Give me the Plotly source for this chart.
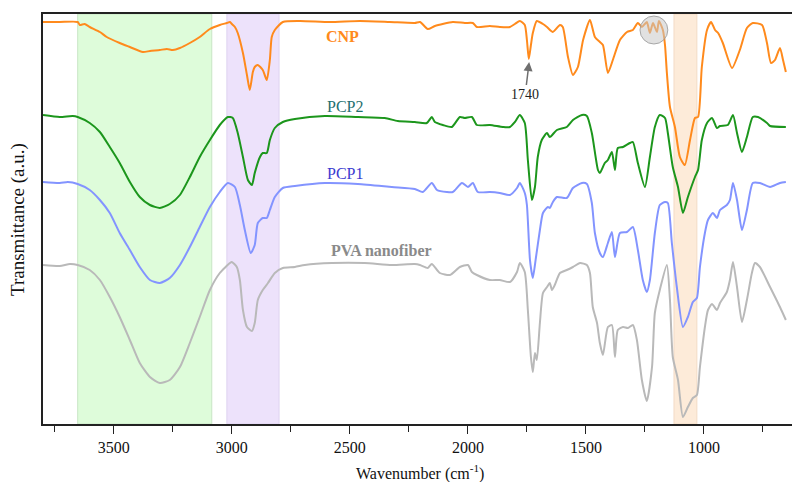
import plotly.graph_objects as go

# ---- data: (wavenumber cm-1, transmittance a.u. offset) ----
cnp = [(3800,402),(3729,402),(3653,402),(3644,399),(3624,400),(3602,397),(3559,392),(3530,387),(3475,381),(3432,377),
       (3377,372),(3347,373),(3305,374),(3275,375),(3250,374),(3220,376),(3178,381),(3136,387),(3093,395),(3051,399),
       (3021,401),(3008,402),(3000,400),(2987,397),(2975,391),(2953,371),(2936,349),(2924,334),(2911,352),(2903,357),
       (2890,359),(2869,354),(2852,344),(2839,364),(2831,387),(2818,394),(2784,402),(2712,403),(2585,402),(2458,403),
       (2331,402),(2225,401),(2203,402),(2170,395),(2140,398),(2064,402),(2013,401),(1979,401),(1962,397),(1907,398),
       (1865,397),(1822,397),(1801,400),(1780,403),(1759,399),(1750,384),(1742,365),(1733,379),(1725,391),(1708,403),
       (1682,400),(1665,397),(1640,392),(1610,399),(1598,397),(1576,367),(1555,349),(1534,357),(1512,384),(1483,404),
       (1462,387),(1441,382),(1428,379),(1407,351),(1386,364),(1356,384),(1326,392),(1301,394),(1280,401),(1263,397),
       (1242,402),(1229,391),(1216,401),(1199,392),(1191,403),(1174,394),(1165,379),(1157,351),(1144,317),(1123,297),
       (1102,267),(1081,259),(1059,284),(1038,306),(1025,307),(1009,357),(987,394),(970,402),(953,394),(940,391),
       (920,381),(881,356),(848,374),(818,396),(793,401),(754,399),(733,381),(716,361),(699,364),(678,376),
       (665,364),(653,352)]

pcp2 = [(3800,309),(3729,307),(3674,308),(3653,307),(3602,301),(3559,292),(3517,277),(3475,261),(3432,242),(3390,227),
        (3347,219),(3305,216),(3263,220),(3220,229),(3178,247),(3136,267),(3093,284),(3051,299),(3017,307),(2996,306),
        (2975,291),(2953,267),(2932,244),(2915,239),(2903,251),(2881,267),(2869,271),(2852,271),(2839,284),(2818,296),
        (2784,302),(2733,305),(2606,308),(2466,307),(2352,306),(2297,303),(2225,302),(2174,301),(2153,307),(2140,302),
        (2106,299),(2068,297),(2034,307),(2013,306),(1983,307),(1962,299),(1907,299),(1852,297),(1822,297),(1801,302),
        (1780,309),(1759,301),(1746,264),(1729,224),(1716,237),(1704,267),(1687,284),(1665,291),(1653,287),(1623,294),
        (1581,297),(1555,304),(1517,309),(1496,308),(1475,291),(1449,254),(1441,251),(1420,261),(1407,264),(1390,272),
        (1377,254),(1365,276),(1343,277),(1314,281),(1301,282),(1280,261),(1250,237),(1229,267),(1208,297),(1187,309),
        (1165,306),(1153,291),(1132,257),(1110,237),(1089,211),(1068,227),(1038,247),(1025,254),(1009,284),(987,301),
        (966,306),(945,296),(932,298),(899,299),(877,309),(860,291),(839,272),(818,287),(793,307),(771,307),
        (733,301),(720,298),(653,297)]

pcp1 = [(3800,242),(3729,241),(3695,242),(3653,240),(3602,234),(3559,224),(3517,211),(3475,191),(3432,174),(3390,157),
        (3347,144),(3305,141),(3263,146),(3220,159),(3178,177),(3136,197),(3093,217),(3051,232),(3017,241),(2987,237),
        (2966,219),(2945,194),(2920,171),(2903,179),(2890,201),(2869,206),(2852,206),(2839,214),(2818,227),(2784,236),
        (2733,238),(2606,241),(2466,240),(2322,237),(2225,235),(2191,232),(2153,241),(2131,234),(2089,232),(2064,232),
        (2025,241),(2000,237),(1979,241),(1958,232),(1907,232),(1865,231),(1822,229),(1792,236),(1780,241),(1759,231),
        (1750,219),(1737,164),(1725,146),(1712,166),(1695,194),(1682,211),(1661,217),(1653,216),(1640,222),(1623,227),
        (1581,226),(1555,236),(1517,241),(1496,240),(1475,221),(1462,191),(1441,171),(1428,167),(1407,181),(1390,192),
        (1377,167),(1356,191),(1326,192),(1301,197),(1280,174),(1259,144),(1242,132),(1229,144),(1208,191),(1187,219),
        (1165,222),(1153,221),(1136,181),(1115,137),(1089,97),(1068,107),(1047,122),(1030,126),(1017,157),(996,191),
        (983,204),(962,211),(945,206),(932,214),(903,219),(890,224),(877,241),(860,224),(839,194),(818,214),
        (793,241),(763,241),(720,237),(678,241),(653,242)]

pva = [(3800,159),(3729,158),(3686,160),(3653,159),(3602,154),(3559,144),(3517,127),(3475,107),(3432,84),(3390,61),
       (3347,47),(3305,41),(3263,44),(3220,57),(3178,81),(3136,107),(3093,134),(3051,151),(3008,161),(3000,162),
       (2979,157),(2966,144),(2953,114),(2936,97),(2915,93),(2903,101),(2890,124),(2869,134),(2847,141),(2818,151),
       (2784,156),(2733,157),(2691,159),(2576,161),(2437,161),(2322,159),(2225,160),(2203,159),(2170,156),(2153,160),
       (2119,151),(2076,149),(2034,157),(2000,159),(1983,152),(1962,149),(1907,144),(1865,144),(1822,142),(1792,152),
       (1780,161),(1759,152),(1746,114),(1733,67),(1725,52),(1716,71),(1708,64),(1695,101),(1682,131),(1665,137),
       (1653,141),(1644,134),(1632,139),(1610,151),(1581,154),(1555,157),(1525,161),(1496,159),(1483,151),(1471,117),
       (1453,101),(1441,81),(1428,69),(1407,97),(1390,99),(1377,67),(1365,94),(1343,97),(1322,96),(1301,99),
       (1284,84),(1263,44),(1242,23),(1220,57),(1208,111),(1187,134),(1157,159),(1144,124),(1132,67),(1110,44),
       (1089,7),(1068,17),(1047,26),(1030,29),(1017,57),(996,97),(983,114),(966,120),(945,114),(932,121),
       (903,132),(890,144),(877,162),(860,137),(839,102),(818,124),(797,151),(784,161),(763,157),(720,137),
       (678,117),(653,104)]

series_names = ["PVA nanofiber", "PCP1", "PCP2", "CNP"]
series_data = [pva, pcp1, pcp2, cnp]
line_colors = ["#b9b9b9", "#8394ff", "#1c961c", "#ff8a1c"]

# highlighted bands (wavenumber ranges)
band_ranges = [(3653, 3085), (3021, 2800), (1127, 1030)]
band_fills = ["#defcda", "#ede2fb", "#fdebd9"]
band_lines = ["#c9e6c6", "#ded2f0", "#f3dcc6"]

# text labels: (text, wavenumber, value, color, bold)
labels = [("CNP", 2530, 388, "#ff8a1c", True),
          ("PCP2", 2521, 318, "#1f7070", False),
          ("PCP1", 2521, 251, "#3a3ad0", False),
          ("PVA nanofiber", 2364, 174, "#8a8a8a", True)]

peak_wn = 1740
peak_val = 363
circle_box = (1271, 1153, 380, 408)

fig = go.Figure()

for (x0, x1), fc, lc in zip(band_ranges, band_fills, band_lines):
    fig.add_shape(type="rect", xref="x", yref="paper", x0=x0, x1=x1, y0=0, y1=1,
                  fillcolor=fc, line=dict(color=lc, width=1), layer="below")

for name, data, col in zip(series_names, series_data, line_colors):
    fig.add_trace(go.Scatter(x=[p[0] for p in data], y=[p[1] for p in data], mode="lines",
                             name=name, line=dict(color=col, width=2, shape="spline", smoothing=0.6),
                             showlegend=False, hoverinfo="skip"))

fig.add_shape(type="circle", xref="x", yref="y", x0=circle_box[0], x1=circle_box[1],
              y0=circle_box[2], y1=circle_box[3], fillcolor="rgba(200,200,200,0.55)",
              line=dict(color="rgba(150,150,150,0.8)", width=1), layer="above")

for text, xw, yv, col, bold in labels:
    fig.add_annotation(x=xw, y=yv, xref="x", yref="y", showarrow=False,
                       text=f"<b>{text}</b>" if bold else text,
                       font=dict(family="Liberation Serif", size=16, color=col))

# 1740 peak marker: text below, arrow pointing up to the peak
fig.add_annotation(x=peak_wn, y=peak_val, xref="x", yref="y", text=str(peak_wn), showarrow=True,
                   ax=-4, ay=33, arrowhead=2, arrowsize=1.2, arrowwidth=1.5, arrowcolor="#6f6f6f",
                   standoff=1, font=dict(family="Liberation Serif", size=14, color="#222222"))

# axis titles
fig.add_annotation(x=0.503, y=-0.1195, xref="paper", yref="paper", showarrow=False,
                   xanchor="center", yanchor="middle",
                   text="Wavenumber (cm<sup>-1</sup>)",
                   font=dict(family="Liberation Serif", size=16, color="#111111"))
fig.add_annotation(x=-0.0334, y=0.5, xref="paper", yref="paper", showarrow=False, textangle=-90,
                   xanchor="center", yanchor="middle",
                   text="Transmittance (a.u.)",
                   font=dict(family="Liberation Serif", size=19, color="#111111"))

fig.update_xaxes(range=[3800, 627], tick0=0, dtick=500, ticks="outside", ticklen=8, tickwidth=1.2,
                 tickcolor="#222", showline=True, linecolor="#222", linewidth=1.5, mirror=True,
                 showgrid=False, zeroline=False,
                 tickfont=dict(family="Liberation Serif", size=16, color="#111"),
                 minor=dict(dtick=250, tick0=0, ticks="outside", ticklen=6, tickwidth=1.2, tickcolor="#222"))
fig.update_yaxes(range=[0, 410], showticklabels=False, ticks="", showline=True, linecolor="#222",
                 linewidth=1.5, mirror=False, showgrid=False, zeroline=False)

fig.update_layout(width=792, height=482, margin=dict(l=43, r=0, t=14, b=58),
                  paper_bgcolor="white", plot_bgcolor="white")

fig.write_html("out.html")
